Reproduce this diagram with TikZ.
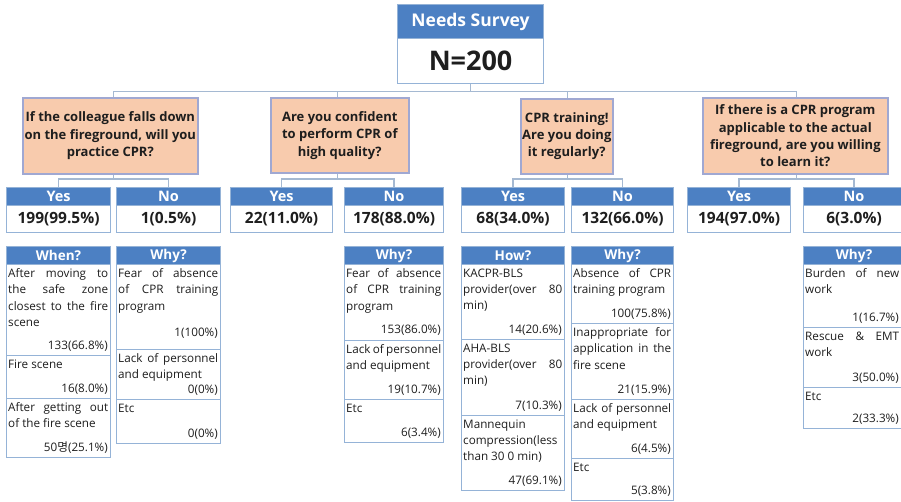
\documentclass[tikz,border=0pt]{standalone}
\usepackage{fontspec}
\setmainfont{Open Sans}
\newfontfamily\krfont{Noto Sans CJK KR}
\usetikzlibrary{calc}
\definecolor{hblue}{RGB}{76,128,195}
\definecolor{lblue}{RGB}{149,179,215}
\definecolor{peach}{RGB}{248,203,173}
\definecolor{qline}{RGB}{160,168,210}
\definecolor{connc}{RGB}{165,185,210}
\definecolor{ink}{RGB}{30,30,30}
\newcommand\rowfont{\fontsize{11.7}{16.3}\selectfont\hyphenpenalty=10000 \exhyphenpenalty=10000 \tolerance=10000 }
\tikzset{
 rowcell/.style={draw=lblue, line width=1.1pt, fill=white},
 rowtxt/.style={inner sep=0pt, align=justify, text=ink, font=\rowfont},
 cnttxt/.style={inner sep=0pt, text=ink, font=\rowfont},
 hdr/.style={draw=lblue, line width=1.1pt, fill=hblue, text=white, font=\bfseries\fontsize{14.5}{16}\selectfont},
 valbox/.style={draw=lblue, line width=1.1pt, fill=white, text=ink, font=\bfseries\fontsize{15.5}{17}\selectfont},
 dhdr/.style={hdr, font=\bfseries\fontsize{13.5}{15}\selectfont},
 qbox/.style={draw=qline, line width=1.6pt, fill=peach, text=ink, align=center, font=\bfseries\fontsize{13}{17.3}\selectfont},
 wire/.style={draw=connc, line width=1.2pt},
}
\newcommand\bx[7]{\pgfmathsetmacro\mybw{#5-#3}\pgfmathsetmacro\mybh{#6-#4}%
 \node[#1, anchor=north west, minimum width=\mybw pt, minimum height=\mybh pt, inner sep=0pt] (#2) at (#3,#4) {#7};}
\def\rpad{2}
\newcommand\drow[8]{%
 \bx{rowcell}{#1}{#2}{#4}{#3}{#5}{}%
 \pgfmathsetmacro\mytw{#3-#2-2-\rpad}%
 \node[rowtxt, text width=\mytw pt, anchor=north west] (#1t) at (#2+2,#4+4.5) {#6};
 \node[cnttxt, anchor=base east] (#1c) at (#3-\rpad,#5-#8) {#7};}
\begin{document}
\begin{tikzpicture}[x=1pt,y=-1pt]
\useasboundingbox (0,0) rectangle (901,501);
\clip (0,0) rectangle (901,501);
\fill[white] (0,0) rectangle (901,501);
% top
\bx{hdr, font=\bfseries\fontsize{17.5}{19}\selectfont}{ns}{397}{4}{543}{38}{Needs Survey}
\bx{valbox, font=\bfseries\fontsize{27}{29}\selectfont}{nn}{397}{38}{543}{83}{N=200}
% questions
\bx{qbox}{q1}{22}{97}{197}{173}{If the colleague falls down\\on the fireground, will you\\practice CPR?}
\bx{qbox}{q2}{270}{97}{408}{172}{Are you confident\\to perform CPR of\\high quality?}
\bx{qbox}{q3}{520}{98}{612}{173}{CPR training!\\Are you doing\\it regularly?}
\bx{qbox}{q4}{702}{97}{887}{173}{If there is a CPR program\\applicable to the actual\\fireground, are you willing\\to learn it?}
% yes / no
\bx{hdr}{hY1}{6}{187}{110}{205}{Yes}
\bx{valbox}{vY1}{6}{205}{110}{232}{199(99.5\%)}
\bx{hdr}{hN1}{116}{187}{220}{205}{No}
\bx{valbox}{vN1}{116}{205}{220}{232}{1(0.5\%)}
\bx{hdr}{hY2}{230}{187}{332}{205}{Yes}
\bx{valbox}{vY2}{230}{205}{332}{232}{22(11.0\%)}
\bx{hdr}{hN2}{344}{187}{443}{205}{No}
\bx{valbox}{vN2}{344}{205}{443}{232}{178(88.0\%)}
\bx{hdr}{hY3}{461}{187}{564}{205}{Yes}
\bx{valbox}{vY3}{461}{205}{564}{232}{68(34.0\%)}
\bx{hdr}{hN3}{571}{187}{673}{205}{No}
\bx{valbox}{vN3}{571}{205}{673}{232}{132(66.0\%)}
\bx{hdr}{hY4}{687}{187}{790}{205}{Yes}
\bx{valbox}{vY4}{687}{205}{790}{232}{194(97.0\%)}
\bx{hdr}{hN4}{803}{187}{904}{205}{No}
\bx{valbox}{vN4}{803}{205}{904}{232}{6(3.0\%)}
% connectors
\coordinate (bus) at ($(nn.south)+(0,7)$);
\foreach \i in {1,...,4}{\coordinate (b\i) at ($(hY\i.north)!.5!(hN\i.north)+(0,-8)$);}
\draw[wire] (nn.south) -- (bus);
\draw[wire] (b1 |- bus) -- (b4 |- bus);
\foreach \i in {1,...,4}{
 \draw[wire] (b\i |- bus) -- (b\i |- q\i.north);
 \draw[wire] (b\i |- q\i.south) -- (b\i);
 \draw[wire] (hY\i.north) |- (b\i) -| (hN\i.north);
}
% detail headers
\bx{dhdr}{d1}{6}{246}{110}{264}{When?}
\bx{dhdr}{d2}{116}{246}{220}{264}{Why?}
\bx{dhdr}{d3}{344}{246}{443}{264}{Why?}
\bx{dhdr}{d4}{461}{246}{564}{264}{How?}
\bx{dhdr}{d5}{571}{246}{673}{264}{Why?}
\bx{dhdr}{d6}{803}{246}{904}{264}{Why?}
% rows
\drow{r11}{6}{110}{264}{355}{After moving to\linebreak the safe zone\linebreak closest to the fire\linebreak scene}{133(66.8\%)}{5.5}
\drow{r12}{6}{110}{355}{398}{Fire scene}{16(8.0\%)}{5.5}
\drow{r13}{6}{110}{398}{457}{After getting out\linebreak of the fire scene}{50{\krfont 명}(25.1\%)}{5.5}
\drow{r21}{116}{220}{264}{349}{Fear of absence\linebreak of CPR training\linebreak program}{1(100\%)}{12.5}
\drow{r22}{116}{220}{349}{399}{Lack of personnel\linebreak and equipment}{0(0\%)}{5.5}
\drow{r23}{116}{220}{399}{443}{Etc}{0(0\%)}{5.5}
\drow{r31}{344}{443}{264}{340}{Fear of absence\linebreak of CPR training\linebreak program}{153(86.0\%)}{6.5}
\drow{r32}{344}{443}{340}{399}{Lack of personnel\linebreak and equipment}{19(10.7\%)}{5.5}
\drow{r33}{344}{443}{399}{442}{Etc}{6(3.4\%)}{5.5}
\drow{r41}{461}{564}{264}{339}{KACPR-BLS\newline provider(over 80\linebreak min)}{14(20.6\%)}{5.5}
\drow{r42}{461}{564}{339}{415}{AHA-BLS\newline provider(over 80\linebreak min)}{7(10.3\%)}{5.5}
\drow{r43}{461}{564}{415}{490}{Mannequin\newline compression(less\newline than 30 0 min)}{47(69.1\%)}{5.5}
\drow{r51}{571}{673}{264}{323}{Absence of CPR\linebreak training program}{100(75.8\%)}{5.5}
\drow{r52}{571}{673}{323}{399}{Inappropriate for\linebreak application in the\linebreak fire scene}{21(15.9\%)}{5.5}
\drow{r53}{571}{673}{399}{458}{Lack of personnel\linebreak and equipment}{6(4.5\%)}{5.5}
\drow{r54}{571}{673}{458}{500}{Etc}{5(3.8\%)}{5.5}
\def\rpad{5}
\drow{r61}{803}{904}{264}{327}{Burden of new\linebreak work}{1(16.7\%)}{5.5}
\drow{r62}{803}{904}{327}{387}{Rescue \& EMT\linebreak work}{3(50.0\%)}{5.5}
\drow{r63}{803}{904}{387}{428}{Etc}{2(33.3\%)}{5.5}
\end{tikzpicture}
\end{document}
